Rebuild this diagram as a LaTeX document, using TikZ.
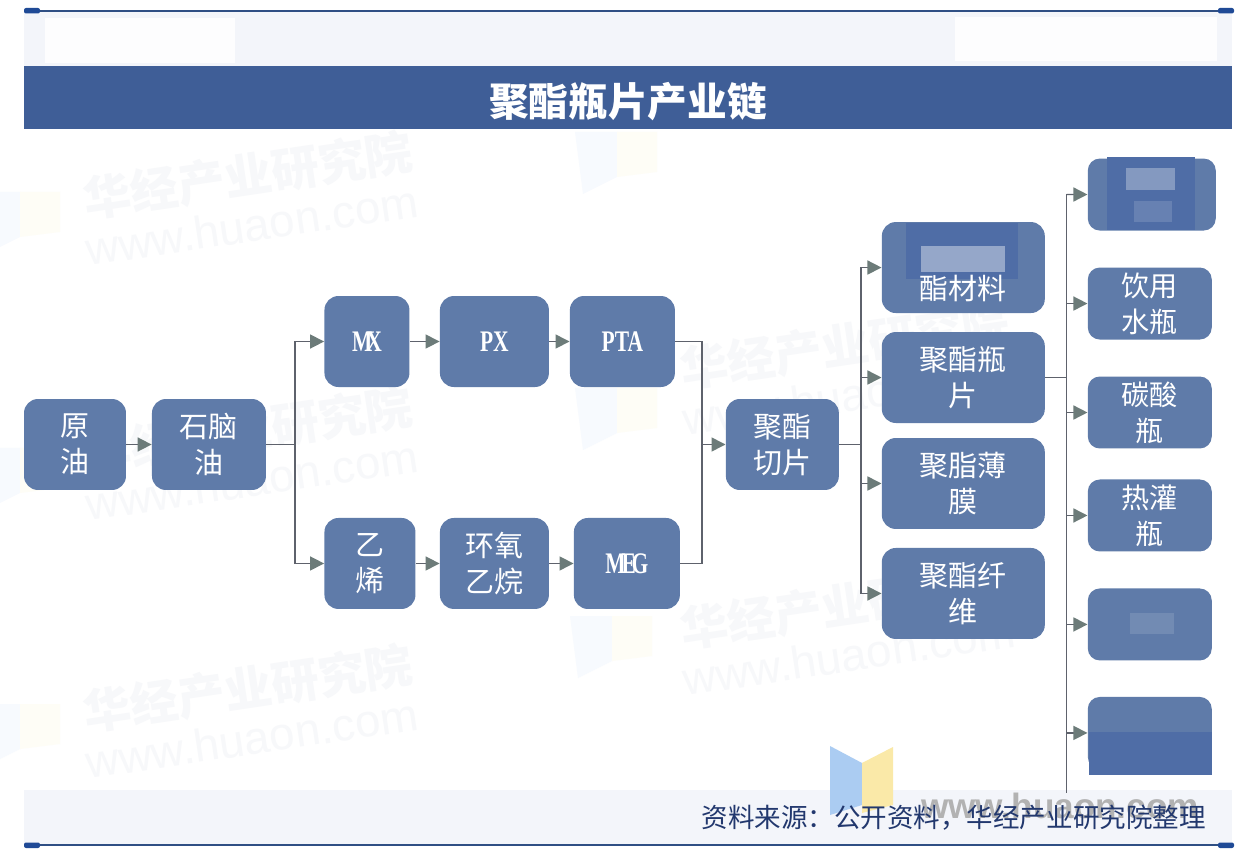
\documentclass[tikz,border=0pt]{standalone}
\usepackage{fontspec}
\setmainfont{Noto Sans CJK SC}
\newfontfamily\latinfont[FakeStretch=0.72]{Liberation Serif}
\newfontfamily\markfont{Liberation Sans}
\usetikzlibrary{arrows.meta,positioning}
\definecolor{boxblue}{HTML}{5F7BA9}
\definecolor{barblue}{HTML}{3F5E97}
\definecolor{patchblue}{HTML}{4F6DA6}
\definecolor{linegray}{HTML}{5E626C}
\definecolor{tipgray}{HTML}{6C7B79}
\definecolor{bandgray}{HTML}{F3F5FA}
\definecolor{ruleblue}{HTML}{2F4F84}
\definecolor{capblue}{HTML}{1F4A96}
\definecolor{sourceblue}{HTML}{22386E}
\definecolor{markgray}{HTML}{F7F8FA}
\definecolor{logoblue}{HTML}{ABCCF2}
\definecolor{logoyellow}{HTML}{FAE9A8}

\begin{document}
\begin{tikzpicture}[
    x=0.02cm,
    y=-0.02cm,
    box/.style={
		rectangle,
		rounded corners=0.28cm,
		fill=boxblue,
		text=white,
		align=center,
		inner sep=0pt,
		minimum height=1.82cm
	},
	cnbox/.style={
		box,
		font=\fontsize{16.5}{20.5}\selectfont,
		execute at begin node={\rule{0pt}{16.5pt}}
	},
	smallbox/.style={
		cnbox,
		rounded corners=0.24cm,
		minimum width=2.48cm,
		minimum height=1.44cm,
		font=\fontsize{16}{20.5}\selectfont
	},
	latin/.style={
		box,
		font=\latinfont\bfseries\fontsize{17}{20}\selectfont
	},
	link/.style={
		draw=linegray,
		line width=0.85pt
	},
	tip/.style={
		link,
		-{Triangle[length=0.28cm,width=0.28cm,color=tipgray]}
	},
	rulecap/.style={
		fill=capblue,
		rounded corners=0.04cm
	},
	cnmark/.style={
		text=markgray,
		rotate=8.5,
		font=\bfseries\fontsize{27}{30}\selectfont
	},
	enmark/.style={
		text=markgray,
		rotate=8.5,
		font=\markfont\fontsize{26}{30}\selectfont
	}
  ]
    % page and bands
  \useasboundingbox (0,0) rectangle (1242,858);
  \fill [white] (0,0) rectangle (1242,858);
  \fill [bandgray] (24,12) rectangle (1232,66);
  \fill [white!80!bandgray] (45,18) rectangle (235,63);
  \fill [white!80!bandgray] (955,17) rectangle (1217,61);
  \fill [bandgray] (24,790) rectangle (1232,845);

    % watermarks
  \foreach \i/\x/\y in {1/248/175, 2/248/430, 3/845/345, 4/845/605, 5/248/688} {
    \node [cnmark] (cnmark\i) at (\x,\y) {华经产业研究院};
    \node [enmark] (enmark\i) at (\x+4,\y+50) {www.huaon.com};
  }
  \foreach \x/\y in {575/132, 575/388, 570/616, -22/192, -22/448, -22/704} {
    \fill [logoblue!10] (\x,\y) -- (\x+42,\y) -- (\x+42,\y+45) -- (\x+8,\y+62) -- cycle;
    \fill [logoyellow!10] (\x+42,\y) -- (\x+82,\y) -- (\x+82,\y+40) -- (\x+42,\y+45) -- cycle;
  }

    % logo in the footer
  \fill [logoblue] (830,746) -- (862,763) -- (862,805) -- (830,815) -- cycle;
  \fill [logoyellow] (862,763) -- (893,747) -- (893,805) -- (862,813) -- cycle;

    % rules at top and bottom
  \draw [ruleblue, line width=1.1pt] (24,11) -- (1232,11);
  \draw [ruleblue, line width=1.1pt] (24,845) -- (1232,845);
  \fill [rulecap] (24,8) rectangle (40,13.5);
  \fill [rulecap] (1218,8) rectangle (1234,13.5);
  \fill [rulecap] (24,842.5) rectangle (40,848);
  \fill [rulecap] (1218,842.5) rectangle (1234,848);

    % title
  \node [fill=barblue, minimum width=24.16cm, minimum height=1.26cm, inner sep=0pt,
         text height=24.5pt, text depth=2.7pt,
         text=white, font=\bfseries\fontsize{22.6}{26}\selectfont] (title) at (628,97.5) {聚酯瓶片产业链};

    % We start by placing the blocks
  \node [cnbox, minimum width=2.04cm] (crude) at (75,444.5) {原\\油};
  \node [cnbox, right of=crude, node distance=2.68cm, minimum width=2.28cm] (naphtha) {石脑\\油};

  \node [latin, right of=naphtha, node distance=3.16cm, yshift=2.06cm, minimum width=1.7cm] (mx) {M\kern-3.4pt X};
  \node [latin, right of=mx, node distance=2.55cm, minimum width=2.18cm] (px) {PX};
  \node [latin, right of=px, node distance=2.56cm, minimum width=2.1cm] (pta) {PTA};

  \node [cnbox, right of=naphtha, node distance=3.22cm, yshift=-2.38cm, minimum width=1.82cm] (ethylene) {乙\\烯};
  \node [cnbox, right of=ethylene, node distance=2.49cm, minimum width=2.18cm] (oxide) {环氧\\乙烷};
  \node [latin, right of=oxide, node distance=2.65cm, minimum width=2.12cm] (meg) {M\kern-2.4pt E\kern-2.4pt G};

  \node [cnbox, right of=naphtha, node distance=11.47cm, minimum width=2.26cm] (chip) {聚酯\\切片};

  \node [cnbox, right of=chip, node distance=3.62cm, yshift=1.34cm, minimum width=3.26cm] (bottle) {聚酯瓶\\片};
  \node [cnbox, above of=bottle, node distance=2.2cm, minimum width=3.26cm] (ester) {};
  \node [cnbox, below of=bottle, node distance=2.12cm, minimum width=3.26cm] (film) {聚脂薄\\膜};
  \node [cnbox, below of=film, node distance=2.2cm, minimum width=3.26cm] (fibre) {聚酯纤\\维};

  \node [smallbox, right of=bottle, node distance=3.73cm, yshift=1.48cm] (water) {饮用\\水瓶};
  \node [smallbox, above of=water, node distance=2.18cm, xshift=0.04cm, minimum width=2.56cm] (blurA) {};
  \node [smallbox, below of=water, node distance=2.18cm] (soda) {碳酸\\瓶};
  \node [smallbox, below of=soda, node distance=2.06cm] (hotfill) {热灌\\瓶};
  \node [smallbox, below of=hotfill, node distance=2.18cm] (blurB) {};
  \node [smallbox, below of=blurB, node distance=2.17cm] (blurC) {};

    % patches lying over the blocks
  \fill [patchblue] (1107,157) rectangle (1195,230);
  \fill [white, opacity=0.3] (1126,168) rectangle (1175,190);
  \fill [white, opacity=0.14] (1134,201) rectangle (1172,222);
  \fill [patchblue] (906,223) rectangle (1018,279);
  \fill [white, opacity=0.4] (921,246) rectangle (1005,272);
  \fill [white, opacity=0.12] (1130,613) rectangle (1174,634);
  \fill [patchblue] (1089,732) rectangle (1212,775);
  \node [text=white, inner sep=0pt, font=\fontsize{16.5}{20.5}\selectfont] (esterText) at (963,288.5) {酯材料};

    % forks
  \coordinate (forkA) at (295,444.5);
  \coordinate (forkB) at (702,444.5);
  \coordinate (forkC) at (861,444.5);
  \coordinate (busTop) at (1066.5,194.5);
  \coordinate (busEnd) at (1066.5,793);

    % We now draw the connectors
  \draw [tip] (crude) -- (naphtha);
  \draw [link] (naphtha) -- (forkA);
  \draw [tip] (forkA) |- (mx);
  \draw [tip] (forkA) |- (ethylene);
  \draw [tip] (mx) -- (px);
  \draw [tip] (px) -- (pta);
  \draw [tip] (ethylene) -- (oxide);
  \draw [tip] (oxide) -- (meg);
  \draw [link] (pta) -| (forkB);
  \draw [link] (meg) -| (forkB);
  \draw [tip] (forkB) -- (chip);
  \draw [link] (chip) -- (forkC);
  \draw [tip] (forkC) |- (ester);
  \draw [tip] (forkC) |- (bottle);
  \draw [tip] (forkC) |- (film);
  \draw [tip] (forkC) |- (fibre);
  \draw [link] (bottle) -- (busTop |- bottle);
  \draw [tip] (busTop) -- (blurA);
  \draw [tip] (busTop |- water) -- (water);
  \draw [tip] (busTop |- soda) -- (soda);
  \draw [tip] (busTop |- hotfill) -- (hotfill);
  \draw [tip] (busTop |- blurB) -- (blurB);
  \draw [tip] (busTop |- blurC) -- (blurC);
  \draw [link] (busTop) -- (busEnd);

    % footer
  \node [text=gray!60, font=\markfont\bfseries\fontsize{20}{24}\selectfont] (site) at (1060,806) {www.huaon.com};
  \node [text=sourceblue, anchor=east, inner sep=0pt, font=\fontsize{15.1}{18}\selectfont] (source) at (1206,818) {资料来源：公开资料，华经产业研究院整理};
\end{tikzpicture}
\end{document}
